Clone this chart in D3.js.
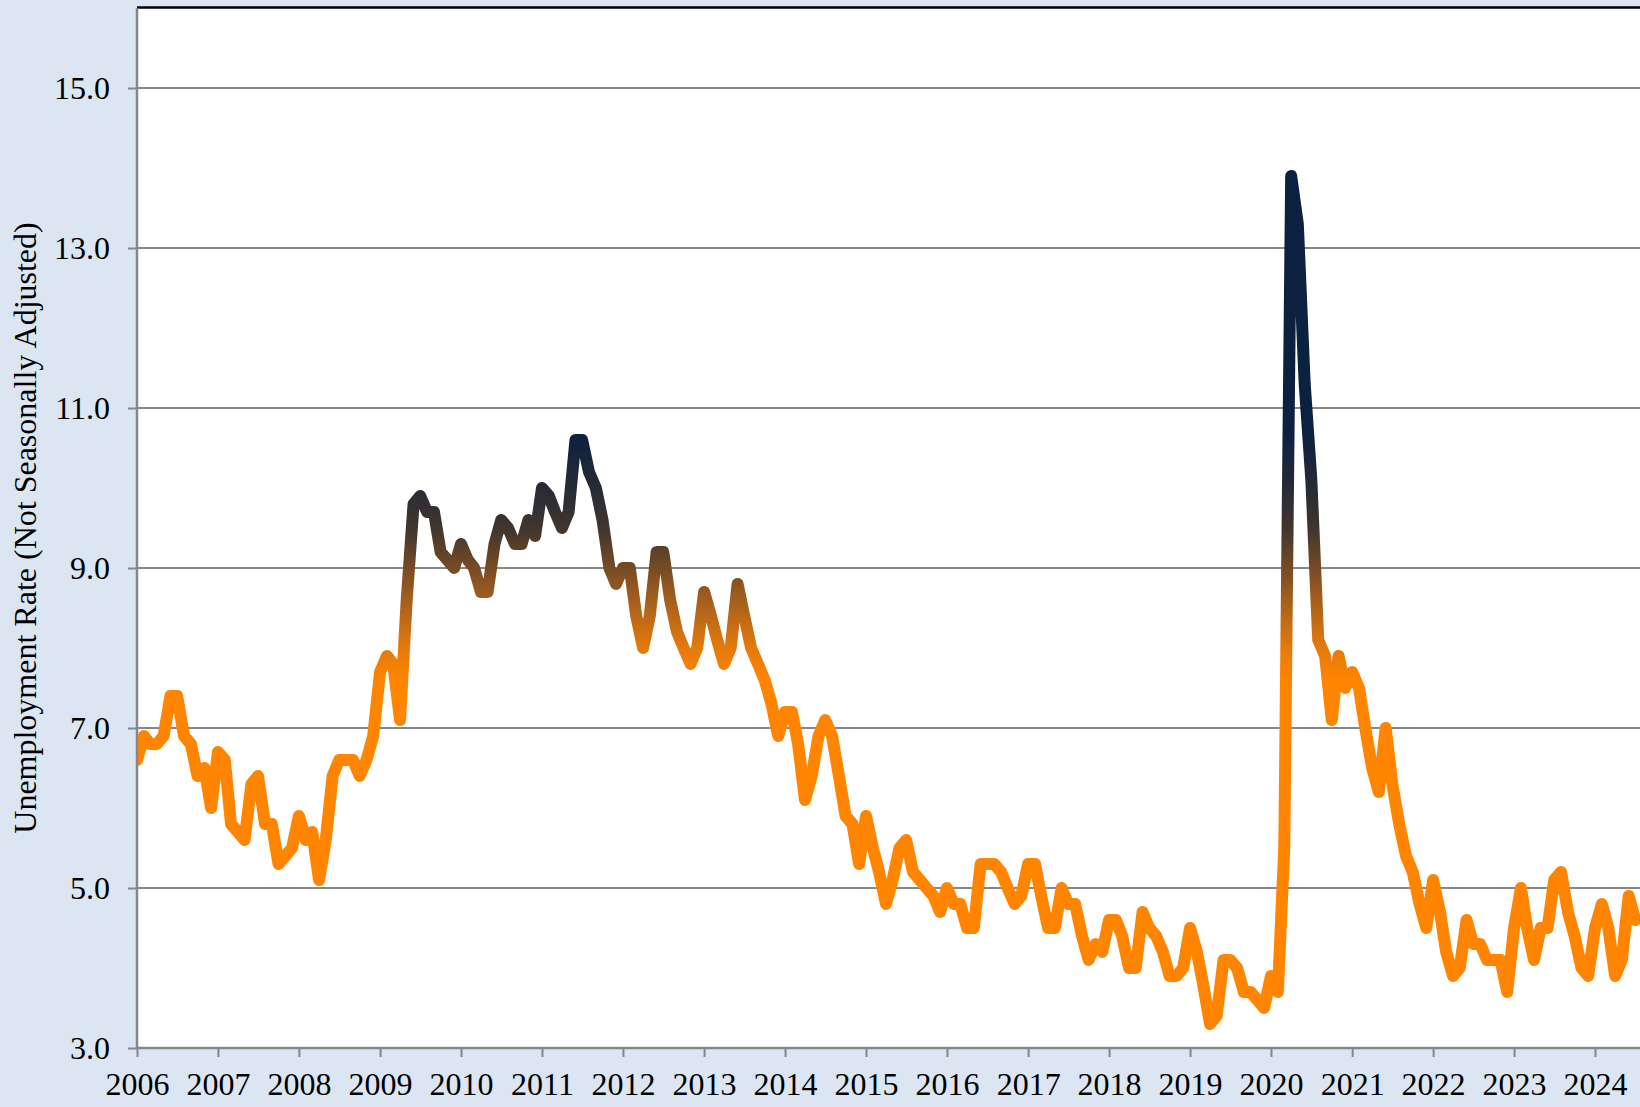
<!DOCTYPE html>
<html lang="en">
<head>
<meta charset="UTF-8" />
<title>Unemployment Rate (Not Seasonally Adjusted)</title>
<script src="https://d3js.org/d3.v7.min.js"></script>
<style>
  body { margin: 0; padding: 0; background-color: #dce6f2; }
  svg { display: block; }
  text { font-family: "Liberation Serif", "Times New Roman", serif; fill: #000; }
</style>
</head>
<body>
<div id="chart"></div>
<script>
  // monthly values, Jan 2006 onward
  const startYear = 2006;
  const rate2006to2011 = [
    6.6, 6.9, 6.8, 6.8, 6.9, 7.4, 7.4, 6.9, 6.8, 6.4, 6.5, 6.0,
    6.7, 6.6, 5.8, 5.7, 5.6, 6.3, 6.4, 5.8, 5.8, 5.3, 5.4, 5.5,
    5.9, 5.6, 5.7, 5.1, 5.6, 6.4, 6.6, 6.6, 6.6, 6.4, 6.6, 6.9,
    7.7, 7.9, 7.8, 7.1, 8.6, 9.8, 9.9, 9.7, 9.7, 9.2, 9.1, 9.0,
    9.3, 9.1, 9.0, 8.7, 8.7, 9.3, 9.6, 9.5, 9.3, 9.3, 9.6, 9.4,
    10.0, 9.9, 9.7, 9.5, 9.7, 10.6, 10.6, 10.2, 10.0, 9.6, 9.0, 8.8
  ];
  const rate2012to2017 = [
    9.0, 9.0, 8.4, 8.0, 8.4, 9.2, 9.2, 8.6, 8.2, 8.0, 7.8, 8.0,
    8.7, 8.4, 8.1, 7.8, 8.0, 8.8, 8.4, 8.0, 7.8, 7.6, 7.3, 6.9,
    7.2, 7.2, 6.8, 6.1, 6.4, 6.9, 7.1, 6.9, 6.4, 5.9, 5.8, 5.3,
    5.9, 5.5, 5.2, 4.8, 5.1, 5.5, 5.6, 5.2, 5.1, 5.0, 4.9, 4.7,
    5.0, 4.8, 4.8, 4.5, 4.5, 5.3, 5.3, 5.3, 5.2, 5.0, 4.8, 4.9,
    5.3, 5.3, 4.9, 4.5, 4.5, 5.0, 4.8, 4.8, 4.4, 4.1, 4.3, 4.2
  ];
  const rate2018to2024 = [
    4.6, 4.6, 4.4, 4.0, 4.0, 4.7, 4.5, 4.4, 4.2, 3.9, 3.9, 4.0,
    4.5, 4.2, 3.8, 3.3, 3.4, 4.1, 4.1, 4.0, 3.7, 3.7, 3.6, 3.5,
    3.9, 3.7, 5.5, 13.9, 13.3, 11.3, 10.1, 8.1, 7.9, 7.1, 7.9, 7.5,
    7.7, 7.5, 7.0, 6.5, 6.2, 7.0, 6.3, 5.8, 5.4, 5.2, 4.8, 4.5,
    5.1, 4.7, 4.2, 3.9, 4.0, 4.6, 4.3, 4.3, 4.1, 4.1, 4.1, 3.7,
    4.5, 5.0, 4.5, 4.1, 4.5, 4.5, 5.1, 5.2, 4.7, 4.4, 4.0, 3.9,
    4.5, 4.8, 4.5, 3.9, 4.1, 4.9, 4.6
  ];
  const yTicks = [3, 5, 7, 9, 11, 13, 15];
  const yTitle = "Unemployment Rate (Not Seasonally Adjusted)";

  // line colour follows the value: orange when low, navy when high
  const gradientStops = [
    { v: 10.7, c: "#0c2040" },
    { v: 10.1, c: "#232937" },
    { v: 9.5,  c: "#40352e" },
    { v: 9.0,  c: "#764b24" },
    { v: 8.5,  c: "#b0631a" },
    { v: 8.0,  c: "#e47a0c" },
    { v: 7.6,  c: "#ff8400" }
  ];

  const rates = [...rate2006to2011, ...rate2012to2017, ...rate2018to2024];
  const data = rates.map((v, i) => ({ date: new Date(startYear, i, 1), v }));

  const width = 1640, height = 1107;
  const margin = { top: 8, left: 137, bottom: 59 };
  const plotBottom = height - margin.bottom;
  const pxPerYear = 81;

  const svg = d3.select("#chart").append("svg")
    .attr("width", width)
    .attr("height", height);

  svg.append("rect")
    .attr("width", width).attr("height", height)
    .attr("fill", "#dce6f2");

  // x: one year = 81px, left edge at Jan 2006
  const xEnd = new Date(2024, 7, 1);
  const xScale = d3.scaleTime()
    .domain([new Date(startYear, 0, 1), xEnd])
    .range([margin.left, margin.left + pxPerYear * (2024 + 7 / 12 - startYear)]);

  const yScale = d3.scaleLinear()
    .domain([3, 16])
    .range([plotBottom, margin.top]);

  svg.append("rect")
    .attr("x", margin.left).attr("y", margin.top)
    .attr("width", width - margin.left).attr("height", plotBottom - margin.top)
    .attr("fill", "#ffffff");

  svg.append("clipPath").attr("id", "plotClip")
    .append("rect")
    .attr("x", margin.left).attr("y", margin.top - 1)
    .attr("width", width - margin.left).attr("height", plotBottom - margin.top + 1);

  // gridlines
  svg.append("g")
    .selectAll("line")
    .data(yTicks.filter(t => t > 3))
    .enter().append("line")
    .attr("x1", margin.left).attr("x2", width)
    .attr("y1", d => yScale(d)).attr("y2", d => yScale(d))
    .attr("stroke", "#878787")
    .attr("stroke-width", 2);

  // top border
  svg.append("line")
    .attr("x1", margin.left).attr("x2", width)
    .attr("y1", margin.top - 0.5).attr("y2", margin.top - 0.5)
    .attr("stroke", "#000")
    .attr("stroke-width", 2.5);

  // gradient
  const defs = svg.append("defs");
  const grad = defs.append("linearGradient")
    .attr("id", "lineGrad")
    .attr("gradientUnits", "userSpaceOnUse")
    .attr("x1", 0).attr("x2", 0)
    .attr("y1", yScale(gradientStops[0].v))
    .attr("y2", yScale(gradientStops[gradientStops.length - 1].v));
  const gTop = gradientStops[0].v, gBot = gradientStops[gradientStops.length - 1].v;
  grad.selectAll("stop")
    .data(gradientStops)
    .enter().append("stop")
    .attr("offset", d => (gTop - d.v) / (gTop - gBot))
    .attr("stop-color", d => d.c);

  const lineGen = d3.line()
    .x(d => xScale(d.date))
    .y(d => yScale(d.v));

  svg.append("path")
    .datum(data)
    .attr("clip-path", "url(#plotClip)")
    .attr("fill", "none")
    .attr("stroke", "url(#lineGrad)")
    .attr("stroke-width", 12)
    .attr("stroke-linejoin", "round")
    .attr("stroke-linecap", "round")
    .attr("d", lineGen);

  // axes
  const yAxis = d3.axisLeft(yScale)
    .tickValues(yTicks)
    .tickFormat(d3.format(".1f"))
    .tickSize(9)
    .tickPadding(18);

  const yG = svg.append("g")
    .attr("transform", `translate(${margin.left},0)`)
    .call(yAxis);

  const xAxis = d3.axisBottom(xScale)
    .ticks(d3.timeYear.every(1))
    .tickFormat(d3.timeFormat("%Y"))
    .tickSize(9)
    .tickPadding(15);

  const xG = svg.append("g")
    .attr("transform", `translate(0,${plotBottom})`)
    .call(xAxis);

  [yG, xG].forEach(g => {
    g.select(".domain").attr("stroke", "#868686").attr("stroke-width", 2.5);
    g.selectAll(".tick line").attr("stroke", "#868686").attr("stroke-width", 2);
    g.selectAll(".tick text")
      .attr("fill", "#000")
      .style("font-size", "32px")
      .style("font-family", "'Liberation Serif', 'Times New Roman', serif");
  });
  yG.select(".domain").attr("d", `M0,${margin.top}V${plotBottom}`);
  xG.select(".domain").attr("d", `M${margin.left},0H${width}`);

  svg.append("text")
    .attr("transform", `translate(36,${(margin.top + plotBottom) / 2}) rotate(-90)`)
    .attr("text-anchor", "middle")
    .style("font-size", "32px")
    .text(yTitle);
</script>
</body>
</html>
